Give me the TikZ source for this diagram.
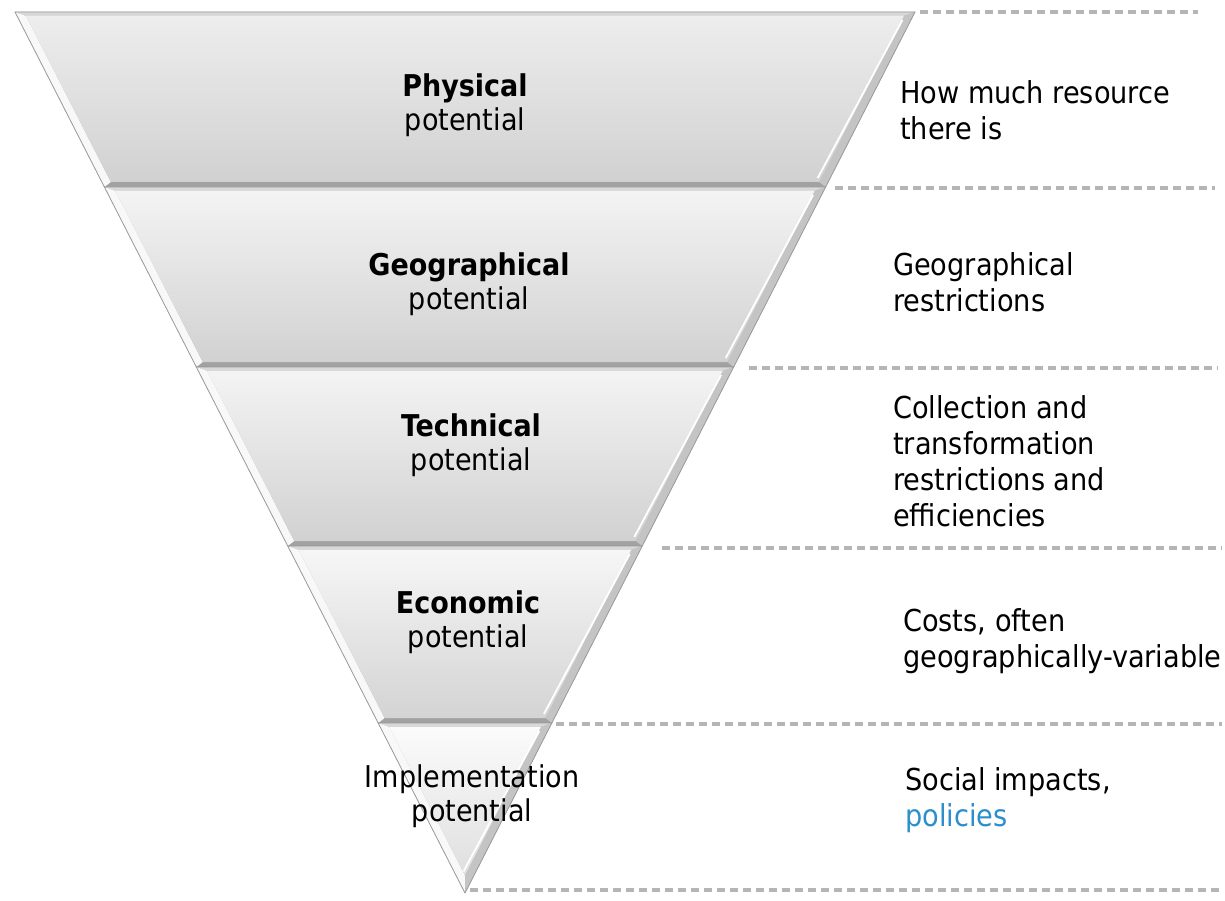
\documentclass[tikz,border=0pt]{standalone}
\usepackage{fontspec}
\setmainfont{DejaVu Sans Condensed}
\usetikzlibrary{calc}
\definecolor{pol}{HTML}{2B8FCB}
\definecolor{edgeL}{HTML}{F8F8F8}
\definecolor{edgeR}{HTML}{C4C4C4}
\definecolor{edgeB}{HTML}{A2A2A2}
\definecolor{edgeT}{HTML}{D8D8D8}
\definecolor{outline}{HTML}{9A9A9A}
\tikzset{
  x=1pt, y=-1pt,
  lbl/.style={align=center, font=\fontsize{30}{33.5}\selectfont, inner sep=0pt},
  desc/.style={align=left, anchor=west, font=\fontsize{30.2}{36}\selectfont, inner sep=0pt},
  guide/.style={draw=gray!58, line width=3.5pt, dash pattern=on 8pt off 5pt},
}
% #1 top y, #2 bottom y, #3 top colour, #4 bottom colour
\newcommand\pyrband[4]{%
  \pgfmathsetmacro\pyT{#1}\pgfmathsetmacro\pyB{#2}%
  \pgfmathsetmacro\pyLT{15+0.51078*(\pyT-12)}\pgfmathsetmacro\pyRT{915-0.51078*(\pyT-12)}%
  \pgfmathsetmacro\pyLB{15+0.51078*(\pyB-12)}\pgfmathsetmacro\pyRB{915-0.51078*(\pyB-12)}%
  \pgfmathsetmacro\pyTI{\pyT+4}\pgfmathsetmacro\pyBI{min(\pyB-5,875.4)}%
  \pgfmathsetmacro\pyLTI{15+0.51078*(\pyTI-12)+9}\pgfmathsetmacro\pyRTI{915-0.51078*(\pyTI-12)-9}%
  \pgfmathsetmacro\pyLBI{15+0.51078*(\pyBI-12)+9}\pgfmathsetmacro\pyRBI{915-0.51078*(\pyBI-12)-9}%
  \fill[edgeB] (\pyLT,\pyT) -- (\pyRT,\pyT) -- (\pyRB,\pyB) -- (\pyLB,\pyB) -- cycle;
  \fill[edgeT] (\pyLT,\pyT) -- (\pyRT,\pyT) -- (\pyRTI,\pyTI) -- (\pyLTI,\pyTI) -- cycle;
  \fill[edgeL] (\pyLT,\pyT) -- (\pyLTI,\pyTI) -- (\pyLBI,\pyBI) -- (\pyLB,\pyB) -- cycle;
  \fill[edgeR] (\pyRT,\pyT) -- (\pyRTI,\pyTI) -- (\pyRBI,\pyBI) -- (\pyRB,\pyB) -- cycle;
  \shade[top color=#3, bottom color=#4] (\pyLTI,\pyTI) -- (\pyRTI,\pyTI) -- (\pyRBI,\pyBI) -- (\pyLBI,\pyBI) -- cycle;
  \draw[white, line width=1.8pt] ($(\pyRTI,\pyTI)+(-1.5,4)$) -- ($(\pyRBI,\pyBI)+(-1.5,-4)$);
  \draw[outline, line width=0.8pt] (\pyLT,\pyT) -- (\pyRT,\pyT) -- (\pyRB,\pyB) -- (\pyLB,\pyB) -- cycle;
}
\begin{document}
\begin{tikzpicture}
\useasboundingbox[fill=white] (0,0) rectangle (1225,901);

% bands
\pyrband{12}{187}{gray!14}{gray!36}
\pyrband{187}{367}{gray!9}{gray!36}
\pyrband{367}{546}{gray!9}{gray!36}
\pyrband{546}{723}{gray!7}{gray!34}
\pyrband{723}{893}{gray!3}{gray!25}

% guide lines
\coordinate (g0s) at (920,12);  \coordinate (g0e) at (1198,12);
\coordinate (g1s) at (835,188); \coordinate (g1e) at (1215,188);
\coordinate (g2s) at (749,368); \coordinate (g2e) at (1218,368);
\coordinate (g3s) at (662,548); \coordinate (g3e) at (1222,548);
\coordinate (g4s) at (556,724); \coordinate (g4e) at (1222,724);
\coordinate (g5s) at (470,890); \coordinate (g5e) at (1222,890);
\draw[guide] (g0s) -- (g0e);
\draw[guide] (g1s) -- (g1e);
\draw[guide] (g2s) -- (g2e);
\draw[guide] (g3s) -- (g3e);
\draw[guide] (g4s) -- (g4e);
\draw[guide] (g5s) -- (g5e);

% band labels
\node[lbl] (phys) at (465,105) {\textbf{Physical}\\potential};
\node[lbl] (geo)  at (469,284) {\textbf{Geographical}\\potential};
\node[lbl] (tech) at (471,445) {\textbf{Technical}\\potential};
\node[lbl] (econ) at (468,622) {\textbf{Economic}\\potential};
\node[lbl] (impl) at (472,796) {Implementation\\potential};

% descriptions
\node[desc] (dphys) at (900,110) {How much resource\\there is};
\node[desc] (dgeo)  at (893,282) {Geographical\\restrictions};
\node[desc] (dtech) at (893,461) {Collection and\\transformation\\restrictions and\\efficiencies};
\node[desc] (decon) at (903,641) {Costs, often\\geographically-variable};
\node[desc] (dimp)  at (905,800) {Social impacts,\\\textcolor{pol}{policies}};
\end{tikzpicture}
\end{document}
